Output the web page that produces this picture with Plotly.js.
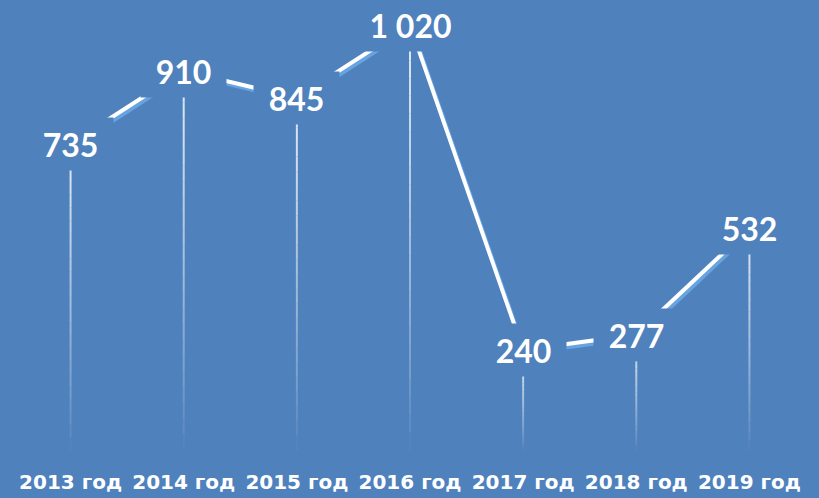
<!DOCTYPE html>
<html>
<head>
<meta charset="utf-8">
<script src="https://cdn.plot.ly/plotly-3.0.1.min.js"></script>
<style>
html,body{margin:0;padding:0;background:#4F81BD;}
#chart{width:819px;height:498px;}
#chart .scatterlayer .js-line{filter: drop-shadow(2px 3px 0px #66A3E0);}
</style>
</head>
<body>
<div id="chart"></div>
<script>
const categories = ["2013 год", "2014 год", "2015 год", "2016 год", "2017 год", "2018 год", "2019 год"];
const values = [735, 910, 845, 1020, 240, 277, 532];
const valueLabels = ["735", "910", "845", "1 020", "240", "277", "532"];

const BG = "#4F81BD";
const shapes = [];
const SEG = 24;
categories.forEach((c, i) => {
  const v = values[i];
  for (let s = 0; s < SEG; s++) {
    const y0 = v - (v * s) / SEG;
    const y1 = v - (v * (s + 1)) / SEG;
    const t = (s + 0.5) / SEG;
    const op = 0.85 * Math.pow(1 - t, 0.8);
    shapes.push({type: "line", xref: "x", yref: "y", x0: c, x1: c, y0: y0, y1: y1,
      line: {color: "rgba(255,255,255," + op.toFixed(3) + ")", width: 2}, layer: "below"});
  }
});

const annotations = categories.map((c, i) => ({
  x: c, y: values[i], xref: "x", yref: "y", text: "<b>" + valueLabels[i] + "</b>",
  showarrow: false, bgcolor: BG, width: valueLabels[i].length * 19 + 26, height: 50,
  font: {family: "Lato", size: 32, color: "#FFFFFF"}, xanchor: "center", yanchor: "middle"
}));

const trace = {
  x: categories, y: values, type: "scatter", mode: "lines",
  line: {color: "#FFFFFF", width: 4}, hoverinfo: "none"
};

const layout = {
  width: 819, height: 498,
  margin: {l: 14, r: 13, t: 0, b: 48},
  paper_bgcolor: BG, plot_bgcolor: BG,
  showlegend: false,
  xaxis: {type: "category", range: [-0.5, 6.5], showgrid: false, zeroline: false, showline: false,
    ticks: "", ticklabelstandoff: 18,
    tickfont: {family: "DejaVu Sans", size: 20, color: "#FFFFFF", weight: "bold"}},
  yaxis: {range: [0, 1080], showgrid: false, zeroline: false, showline: false, showticklabels: false, ticks: ""},
  shapes: shapes, annotations: annotations
};

Plotly.newPlot("chart", [trace], layout, {staticPlot: true, displayModeBar: false});
</script>
</body>
</html>
